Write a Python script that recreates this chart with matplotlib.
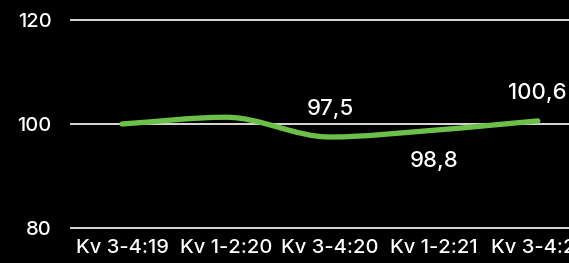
import numpy as np
import matplotlib.pyplot as plt
from matplotlib.path import Path
from matplotlib.patches import PathPatch

periods = ["Kv 3-4:19", "Kv 1-2:20", "Kv 3-4:20", "Kv 1-2:21", "Kv 3-4:21"]
index_values = [100.0, 101.3, 97.5, 98.8, 100.6]
label_text = ["", "", "97,5", "98,8", "100,6"]
label_side = [0, 0, 1, -1, 1]
y_ticks = [80, 100, 120]


def monotone_path(x, y):
    # monotone cubic hermite -> bezier segments
    x = np.asarray(x, float)
    y = np.asarray(y, float)
    h = np.diff(x)
    d = np.diff(y) / h
    m = np.zeros_like(y)
    m[0], m[-1] = d[0], d[-1]
    for i in range(1, len(y) - 1):
        if d[i - 1] * d[i] <= 0:
            m[i] = 0
        else:
            m[i] = 2 / (1 / d[i - 1] + 1 / d[i])
    verts = [(x[0], y[0])]
    codes = [Path.MOVETO]
    for i in range(len(x) - 1):
        verts += [(x[i] + h[i] / 3, y[i] + m[i] * h[i] / 3),
                  (x[i + 1] - h[i] / 3, y[i + 1] - m[i + 1] * h[i] / 3),
                  (x[i + 1], y[i + 1])]
        codes += [Path.CURVE4] * 3
    return Path(verts, codes)


plt.rcParams['font.family'] = ['Inter', 'DejaVu Sans']
plt.rcParams['font.weight'] = 500

fig = plt.figure(figsize=(5.69, 2.63), dpi=100, facecolor="black")
ax = fig.add_axes([71 / 569, 35 / 263, 498 / 569, 208 / 263])
ax.set_facecolor("black")

xs = np.arange(len(periods))
ax.add_patch(PathPatch(monotone_path(xs, index_values), facecolor="none",
                       edgecolor="#6cc04a", lw=3.8, capstyle="round", zorder=3))

for i, (t, s) in enumerate(zip(label_text, label_side)):
    if not t:
        continue
    off = 13 if s > 0 else -15
    ax.annotate(t, (xs[i], index_values[i]), xytext=(0, off), textcoords="offset points",
                ha="center", va="bottom" if s > 0 else "top", color="white", fontsize=16)

ax.set_xlim(-0.49, 4.30)
ax.set_ylim(80, 120)
ax.set_yticks(y_ticks)
ax.set_xticks(xs)
ax.set_xticklabels(periods)
for y in y_ticks:
    ax.axhline(y, color="#d9d9d9", lw=1.4, zorder=1, clip_on=False)
for sp in ax.spines.values():
    sp.set_visible(False)
ax.tick_params(length=0, colors="white", labelsize=14.5)
ax.tick_params(axis="y", pad=14)
ax.tick_params(axis="x", pad=8)

fig.savefig("out.png", dpi=100, facecolor="black")
